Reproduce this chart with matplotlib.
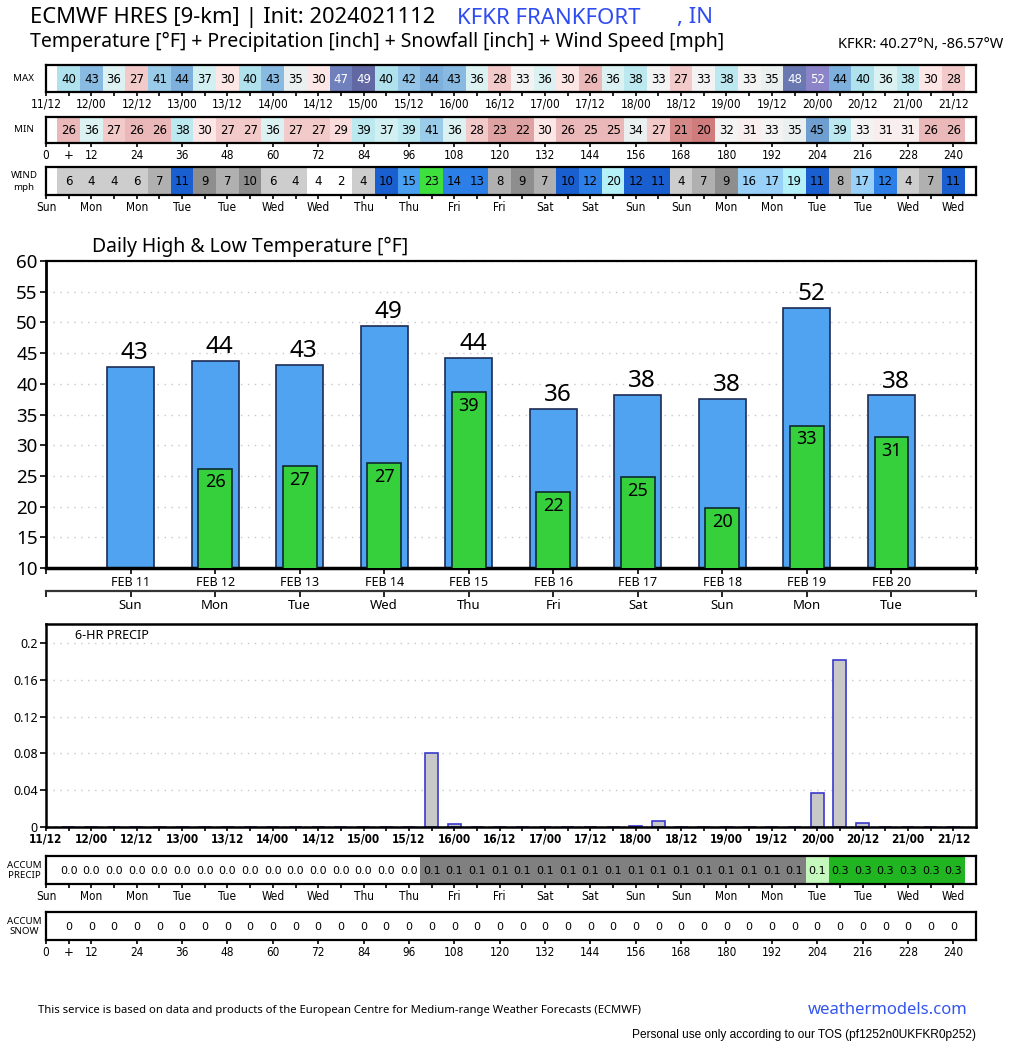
import numpy as np
import matplotlib
matplotlib.use("Agg")
import matplotlib.pyplot as plt

W, H = 1024, 1044

# forecast hours of the 6-hourly cells
hours = np.arange(6, 246, 6)

max_temp = [40, 43, 36, 27, 41, 44, 37, 30, 40, 43, 35, 30, 47, 49, 40, 42, 44, 43, 36, 28,
            33, 36, 30, 26, 36, 38, 33, 27, 33, 38, 33, 35, 48, 52, 44, 40, 36, 38, 30, 28]
min_temp = [26, 36, 27, 26, 26, 38, 30, 27, 27, 36, 27, 27, 29, 39, 37, 39, 41, 36, 28, 23,
            22, 30, 26, 25, 25, 34, 27, 21, 20, 32, 31, 33, 35, 45, 39, 33, 31, 31, 26, 26]
wind_mph = [6, 4.2, 4.2, 6, 7, 11, 9, 7, 9.6, 6, 4.2, 3.7, 2, 4.2, 10.2, 15, 23, 14, 13, 8,
            9, 7, 10.2, 12.3, 20, 11.8, 11, 4.2, 7, 9, 16, 17, 19, 11, 8, 17, 12.3, 4.2, 7, 11]
precip_6hr = [0, 0, 0, 0, 0, 0, 0, 0, 0, 0, 0, 0, 0, 0, 0, 0, 0.080, 0.003, 0, 0,
              0, 0, 0, 0, 0, 0.001, 0.0065, 0, 0, 0, 0, 0, 0, 0.037, 0.182, 0.004, 0, 0, 0, 0]
accum_precip = [0, 0, 0, 0, 0, 0, 0, 0, 0, 0, 0, 0, 0, 0, 0, 0,
                0.080, 0.083, 0.083, 0.083, 0.083, 0.083, 0.083, 0.083, 0.083, 0.084,
                0.0905, 0.0905, 0.0905, 0.0905, 0.0905, 0.0905, 0.0905,
                0.1275, 0.3095, 0.3135, 0.3135, 0.3135, 0.3135, 0.3135]
accum_snow = [0] * 40

date_labels = ["11/12", "12/00", "12/12", "13/00", "13/12", "14/00", "14/12", "15/00", "15/12",
               "16/00", "16/12", "17/00", "17/12", "18/00", "18/12", "19/00", "19/12", "20/00",
               "20/12", "21/00", "21/12"]
hour_labels = ["0", "12", "24", "36", "48", "60", "72", "84", "96", "108", "120", "132", "144",
               "156", "168", "180", "192", "204", "216", "228", "240"]
day_labels = ["Sun", "Mon", "Mon", "Tue", "Tue", "Wed", "Wed", "Thu", "Thu", "Fri", "Fri", "Sat",
              "Sat", "Sun", "Sun", "Mon", "Mon", "Tue", "Tue", "Wed", "Wed"]

days = ["FEB 11", "FEB 12", "FEB 13", "FEB 14", "FEB 15", "FEB 16", "FEB 17", "FEB 18", "FEB 19", "FEB 20"]
weekdays = ["Sun", "Mon", "Tue", "Wed", "Thu", "Fri", "Sat", "Sun", "Mon", "Tue"]
daily_high = [42.8, 43.7, 43.1, 49.4, 44.2, 35.9, 38.2, 37.6, 52.4, 38.1]
daily_low = [np.nan, 26.2, 26.6, 27.1, 38.6, 22.3, 24.8, 19.8, 33.2, 31.3]

precip_ticks = [0, 0.04, 0.08, 0.12, 0.16, 0.2]
precip_tick_labels = ["0", "0.04", "0.08", "0.12", "0.16", "0.2"]

TEXT_FONT = "Noto Sans"
CELL_FONT = "DejaVu Sans"


def rect(x0, y0, x1, y1):
    return [x0 / W, 1 - y1 / H, (x1 - x0) / W, (y1 - y0) / H]


def temp_color(t):
    steps = [(20.5, "#d07c7c"), (21.5, "#d48888"), (23.5, "#dfa2a2"), (26.5, "#eab8b8"),
             (28.5, "#f2caca"), (29.5, "#fadcdc"), (30.5, "#fde6e6"), (31.5, "#f8eeee"),
             (33.5, "#f3f3f3"), (35.5, "#eaefef"), (36.5, "#dcf2f2"), (37.5, "#d2f0f2"),
             (39.5, "#bce9f0"), (40.5, "#b0e2ee"), (41.5, "#9acbe8"), (42.5, "#94c4e6"),
             (43.5, "#88bae2"), (44.5, "#7db0dc"), (45.5, "#6e9fd0"), (47.5, "#7080bc"),
             (48.5, "#6a78b2"), (50.5, "#6268a4")]
    for lim, c in steps:
        if t < lim:
            return c
    return "#8c84c8"


def wind_color(w):
    steps = [(4, "#ffffff"), (6.5, "#cdcdcd"), (8.5, "#b0b0b0"), (10, "#8e8e8e"),
             (12, "#1a5fd0"), (14.5, "#2d7fe8"), (15.5, "#4aa0f0"), (18.5, "#98d0f8"),
             (22, "#b4f0f8")]
    for lim, c in steps:
        if w < lim:
            return c
    return "#3ee03e"


def precip_color(p):
    if p < 0.05:
        return "#ffffff"
    if p < 0.12:
        return "#808080"
    if p < 0.25:
        return "#c4f8bc"
    return "#22b522"


fig = plt.figure(figsize=(W / 100, H / 100), dpi=100)


def strip(y0, y1, colors, texts, labels, name, text_colors=None, fs=8.5):
    ax = fig.add_axes(rect(46, y0, 976, y1))
    ax.bar(hours, np.ones(len(hours)), width=6, color=colors, edgecolor="none")
    if text_colors is None:
        text_colors = ["black"] * len(texts)
    for h, t, c in zip(hours, texts, text_colors):
        ax.text(h, 0.48, t, ha="center", va="center", fontsize=fs, color=c, family=CELL_FONT)
    ax.set_xlim(0, 246)
    ax.set_ylim(0, 1)
    ax.set_yticks([])
    ax.set_xticks(np.arange(0, 241, 12))
    ax.set_xticklabels(labels, family=CELL_FONT, fontsize=8.5, fontstretch="condensed")
    ax.set_xticks(np.arange(6, 241, 12), minor=True)
    ax.tick_params(axis="x", which="both", length=3, width=1.2, pad=1, direction="out")
    for s in ax.spines.values():
        s.set_linewidth(1.6)
    lines = name.split("\n")
    yc = (y0 + y1) / 2
    if len(lines) == 1:
        fig.text(24 / W, 1 - yc / H, name, ha="center", va="center", fontsize=7, family=TEXT_FONT)
    else:
        fig.text(24 / W, 1 - (yc - 5) / H, lines[0], ha="center", va="center", fontsize=7, family=TEXT_FONT)
        fig.text(24 / W, 1 - (yc + 6) / H, lines[1], ha="center", va="center", fontsize=7, family=TEXT_FONT)
    return ax


# top strips
strip(65, 92, [temp_color(t) for t in max_temp], [str(t) for t in max_temp], date_labels, "MAX",
      ["white" if t >= 46 else "black" for t in max_temp])
ax_min = strip(117, 143, [temp_color(t) for t in min_temp], [str(t) for t in min_temp], hour_labels, "MIN")
ax_min.set_xticks([6], ["+"], minor=True)
ax_min.tick_params(axis="x", which="minor", labelsize=8.5)
strip(167, 195, [wind_color(w) for w in wind_mph], [str(int(round(w))) for w in wind_mph], day_labels, "WIND\nmph")

# daily high / low chart
ax = fig.add_axes(rect(46, 261, 976, 568))
x = np.arange(1, 11)
ax.set_axisbelow(True)
ax.yaxis.grid(True, color="#c8c8c8", linestyle=(0, (1, 4)), linewidth=1)
ax.bar(x, daily_high, width=0.555, color="#4fa3f0", edgecolor="#1c2c55", linewidth=1.2, zorder=2)
ax.bar(x, daily_low, width=0.4, color="#36d03c", edgecolor="#0e2a30", linewidth=1.2, zorder=3)
for xi, hi, lo in zip(x, daily_high, daily_low):
    ax.annotate(str(int(round(hi))), (xi, hi), xytext=(3, 10), textcoords="offset points",
                ha="center", va="center", fontsize=17.5, family=TEXT_FONT)
    if not np.isnan(lo):
        ax.annotate(str(int(round(lo))), (xi, lo), xytext=(0, -10), textcoords="offset points",
                    ha="center", va="center", fontsize=13, family=TEXT_FONT, zorder=4)
ax.set_xlim(0, 11)
ax.set_ylim(10, 60)
ax.set_yticks(np.arange(10, 61, 5))
ax.set_yticklabels([str(v) for v in range(10, 61, 5)], fontsize=13.5, family=TEXT_FONT)
ax.set_xticks(list(range(0, 12)), [""] + days + [""], fontsize=9, family=TEXT_FONT)
ax.tick_params(axis="x", length=4, width=1.2, pad=2)
ax.tick_params(axis="y", length=4, width=1.2, pad=2)
ax.spines["bottom"].set_linewidth(2.5)
ax.spines["left"].set_linewidth(2)
ax.spines["top"].set_linewidth(1.6)
ax.spines["right"].set_linewidth(1.6)
sec = ax.secondary_xaxis(-0.075)
sec.set_xticks(list(range(0, 12)), [""] + weekdays + [""], fontsize=9.5, family=TEXT_FONT)
sec.tick_params(axis="x", length=4, width=1.2, pad=2)
sec.spines["bottom"].set_linewidth(1.6)
sec.spines["bottom"].set_color("#333333")
ax.text(0.05, 1.012, "Daily High & Low Temperature [°F]", transform=ax.transAxes,
        fontsize=14, family=TEXT_FONT, va="bottom", ha="left")

# 6-hr precip
axp = fig.add_axes(rect(46, 624, 976, 827))
axp.set_axisbelow(True)
axp.yaxis.grid(True, color="#c8c8c8", linestyle=(0, (1, 4)), linewidth=1)
axp.bar(hours, precip_6hr, width=3.4, color="#c8c8c8", edgecolor="#3a3acc", linewidth=1.2, zorder=2)
axp.axhline(0, color="black", linestyle="--", linewidth=1, zorder=3)
axp.set_xlim(0, 246)
axp.set_ylim(0, 0.2207)
axp.set_yticks(precip_ticks, precip_tick_labels, fontsize=9, fontweight="bold", family=TEXT_FONT)
axp.set_xticks(np.arange(0, 241, 12))
axp.set_xticklabels(date_labels, family=CELL_FONT, fontsize=8.5, fontweight="bold", fontstretch="condensed")
axp.set_xticks(np.arange(6, 241, 12), minor=True)
axp.tick_params(axis="x", which="both", length=3, width=1.2, pad=1)
axp.tick_params(axis="y", length=4, width=1.2, pad=2)
for s in axp.spines.values():
    s.set_linewidth(1.8)
axp.text(0.031, 0.975, "6-HR PRECIP", transform=axp.transAxes, fontsize=9, family=TEXT_FONT,
         va="top", ha="left")

# bottom strips
strip(856, 884, [precip_color(p) for p in accum_precip], ["%.1f" % p for p in accum_precip],
      day_labels, "ACCUM\nPRECIP", fs=8)
ax_snow = strip(912, 940, [precip_color(s) for s in accum_snow], [str(s) for s in accum_snow],
                hour_labels, "ACCUM\nSNOW", fs=8)
ax_snow.set_xticks([6], ["+"], minor=True)
ax_snow.tick_params(axis="x", which="minor", labelsize=8.5)

# header
fig.text(30 / W, 1 - 18 / H, "ECMWF HRES [9-km] | Init: 2024021112", fontsize=15.8, family=TEXT_FONT,
         va="center", ha="left")
fig.text(457 / W, 1 - 18 / H, "KFKR FRANKFORT", fontsize=16, family=TEXT_FONT, color="#2f4cf0",
         va="center", ha="left")
fig.text(677 / W, 1 - 18 / H, ", IN", fontsize=16, family=TEXT_FONT, color="#2f4cf0",
         va="center", ha="left")
fig.text(30 / W, 1 - 42 / H, "Temperature [°F] + Precipitation [inch] + Snowfall [inch] + Wind Speed [mph]",
         fontsize=14, family=TEXT_FONT, va="center", ha="left")
fig.text(838 / W, 1 - 44 / H, "KFKR: 40.27°N, -86.57°W", fontsize=10.5, family=TEXT_FONT,
         va="center", ha="left")

# footer
fig.text(38 / W, 1 - 1011 / H,
         "This service is based on data and products of the European Centre for Medium-range Weather Forecasts (ECMWF)",
         fontsize=8.1, family=TEXT_FONT, va="center", ha="left")
fig.text(968 / W, 1 - 1010 / H, "weathermodels.com", fontsize=12, fontweight="bold", family=TEXT_FONT,
         color="#3355ee", va="center", ha="right")
fig.text(976 / W, 1 - 1035 / H, "Personal use only according to our TOS (pf1252n0UKFKR0p252)",
         fontsize=8.6, family="Liberation Sans", va="center", ha="right")

fig.savefig("out.png", dpi=100)
